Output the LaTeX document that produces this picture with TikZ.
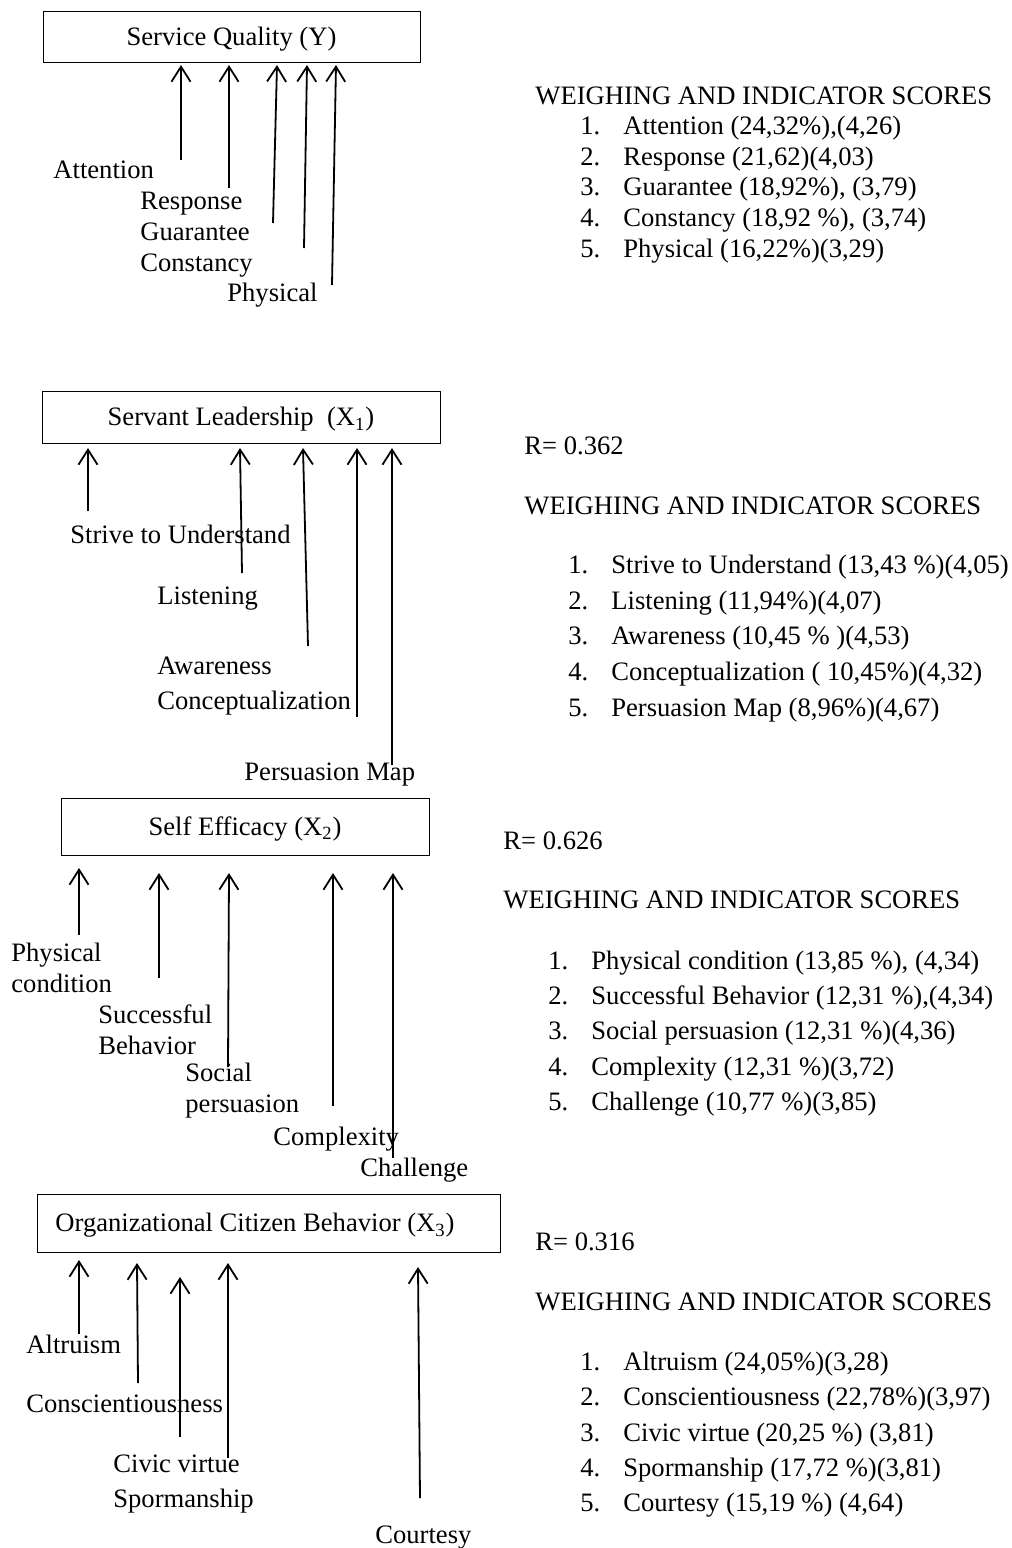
\documentclass[tikz,border=0pt]{standalone}
\usepackage{fontspec}
\setmainfont{Liberation Serif}
\usepackage{tikz}
\usetikzlibrary{arrows.meta, calc}
\newcommand{\itemno}[1]{\makebox[21.5pt][l]{#1}}

\begin{document}
\begin{tikzpicture}[
	x=0.5pt, y=-0.5pt,
	font=\fontsize{13.3}{15.5}\selectfont,
	box/.style={draw, line width=0.5pt, inner sep=0pt, text height=8.8pt, text depth=0pt},
	ind/.style={anchor=base west, inner sep=0pt, yshift=-4.4pt},
	indTwo/.style={anchor=west, inner sep=0pt, align=left},
	txt/.style={anchor=base west, inner sep=0pt, yshift=-4.4pt},
	indArrow/.style={-{Straight Barb[length=7.5pt, width=9.5pt]}, line width=0.9pt}
	]
	
	\useasboundingbox (0,0) rectangle (1012,1548);
	
	% Service Quality
	\node [box, minimum width=188.5pt, minimum height=25.5pt] (Y) at (231.5,36.5) {Service Quality (Y)};
	\node [ind] (yl1) at (53,170) {Attention};
	\node [ind] (yl2) at (140,201) {Response};
	\node [ind] (yl3) at (140,232) {Guarantee};
	\node [ind] (yl4) at (140,263) {Constancy};
	\node [ind] (yl5) at (227,293) {Physical};
	\coordinate (yT1) at (181,160); \coordinate (yH1) at (181,65);
	\coordinate (yT2) at (229,188); \coordinate (yH2) at (229,65);
	\coordinate (yT3) at (273,223); \coordinate (yH3) at (277,65);
	\coordinate (yT4) at (304,248); \coordinate (yH4) at (307,65);
	\coordinate (yT5) at (332,285); \coordinate (yH5) at (336,65);
	\draw [indArrow] (yT1) -- (yH1);
	\draw [indArrow] (yT2) -- (yH2);
	\draw [indArrow] (yT3) -- (yH3);
	\draw [indArrow] (yT4) -- (yH4);
	\draw [indArrow] (yT5) -- (yH5);
	
	\node [txt] (yHead) at (535,96) {WEIGHING AND INDICATOR SCORES};
	\node [txt] (ys1) at (580,126) {\itemno{1.}Attention (24,32\%),(4,26)};
	\node [txt] (ys2) at (580,157) {\itemno{2.}Response (21,62)(4,03)};
	\node [txt] (ys3) at (580,187) {\itemno{3.}Guarantee (18,92\%), (3,79)};
	\node [txt] (ys4) at (580,218) {\itemno{4.}Constancy (18,92 \%), (3,74)};
	\node [txt] (ys5) at (580,249) {\itemno{5.}Physical (16,22\%)(3,29)};
	
	% Servant Leadership
	\node [box, minimum width=199pt, minimum height=26pt] (X1) at (241,417) {Servant Leadership\ \ (X\textsubscript{1})};
	\node [ind] (al1) at (70,535) {Strive to Understand};
	\node [ind] (al2) at (157,596) {Listening};
	\node [ind] (al3) at (157,666) {Awareness};
	\node [ind] (al4) at (157,701) {Conceptualization};
	\node [ind] (al5) at (244,772) {Persuasion Map};
	\coordinate (aT1) at (88,511); \coordinate (aH1) at (88,448);
	\coordinate (aT2) at (242,573); \coordinate (aH2) at (240,448);
	\coordinate (aT3) at (308,646); \coordinate (aH3) at (303,448);
	\coordinate (aT4) at (357,717); \coordinate (aH4) at (357,448);
	\coordinate (aT5) at (392,765); \coordinate (aH5) at (392,448);
	\draw [indArrow] (aT1) -- (aH1);
	\draw [indArrow] (aT2) -- (aH2);
	\draw [indArrow] (aT3) -- (aH3);
	\draw [indArrow] (aT4) -- (aH4);
	\draw [indArrow] (aT5) -- (aH5);
	
	\node [txt] (aR) at (524,446) {R= 0.362};
	\node [txt] (aHead) at (524,506) {WEIGHING AND INDICATOR SCORES};
	\node [txt] (as1) at (568,565) {\itemno{1.}Strive to Understand (13,43 \%)(4,05)};
	\node [txt] (as2) at (568,601) {\itemno{2.}Listening (11,94\%)(4,07)};
	\node [txt] (as3) at (568,636) {\itemno{3.}Awareness (10,45 \% )(4,53)};
	\node [txt] (as4) at (568,672) {\itemno{4.}Conceptualization ( 10,45\%)(4,32)};
	\node [txt] (as5) at (568,708) {\itemno{5.}Persuasion Map (8,96\%)(4,67)};
	
	% Self Efficacy
	\node [box, minimum width=184pt, minimum height=28.5pt] (X2) at (245,826.5) {Self Efficacy (X\textsubscript{2})};
	\node [indTwo] (bl1) at (11,967.5) {Physical\\condition};
	\node [indTwo] (bl2) at (98,1029.5) {Successful\\Behavior};
	\node [indTwo] (bl3) at (185,1090.5) {Social\\persuasion};
	\node [ind] (bl4) at (273,1137) {Complexity};
	\node [ind] (bl5) at (360,1168) {Challenge};
	\coordinate (bT1) at (79,935); \coordinate (bH1) at (79,868);
	\coordinate (bT2) at (159,978); \coordinate (bH2) at (159,873);
	\coordinate (bT3) at (228,1067); \coordinate (bH3) at (229,873);
	\coordinate (bT4) at (333,1106); \coordinate (bH4) at (333,873);
	\coordinate (bT5) at (393,1158); \coordinate (bH5) at (393,873);
	\draw [indArrow] (bT1) -- (bH1);
	\draw [indArrow] (bT2) -- (bH2);
	\draw [indArrow] (bT3) -- (bH3);
	\draw [indArrow] (bT4) -- (bH4);
	\draw [indArrow] (bT5) -- (bH5);
	
	\node [txt] (bR) at (503,841) {R= 0.626};
	\node [txt] (bHead) at (503,900) {WEIGHING AND INDICATOR SCORES};
	\node [txt] (bs1) at (548,961) {\itemno{1.}Physical condition (13,85 \%), (4,34)};
	\node [txt] (bs2) at (548,996) {\itemno{2.}Successful Behavior (12,31 \%),(4,34)};
	\node [txt] (bs3) at (548,1031) {\itemno{3.}Social persuasion (12,31 \%)(4,36)};
	\node [txt] (bs4) at (548,1067) {\itemno{4.}Complexity (12,31 \%)(3,72)};
	\node [txt] (bs5) at (548,1102) {\itemno{5.}Challenge (10,77 \%)(3,85)};
	
	% Organizational Citizen Behavior
	\node [box, minimum width=231.5pt, minimum height=29pt] (X3) at (268.5,1223) {Organizational Citizen Behavior (X\textsubscript{3})\kern 13.5pt};
	\node [ind] (cl1) at (26,1345) {Altruism};
	\node [ind] (cl2) at (26,1404) {Conscientiousness};
	\node [ind] (cl3) at (113,1464) {Civic virtue};
	\node [ind] (cl4) at (113,1499) {Spormanship};
	\node [ind] (cl5) at (375,1535) {Courtesy};
	\coordinate (cT1) at (79,1334); \coordinate (cH1) at (79,1260);
	\coordinate (cT2) at (138,1383); \coordinate (cH2) at (137,1263);
	\coordinate (cT3) at (180,1437); \coordinate (cH3) at (180,1277);
	\coordinate (cT4) at (228,1458); \coordinate (cH4) at (228,1263);
	\coordinate (cT5) at (420,1498); \coordinate (cH5) at (418,1267);
	\draw [indArrow] (cT1) -- (cH1);
	\draw [indArrow] (cT2) -- (cH2);
	\draw [indArrow] (cT3) -- (cH3);
	\draw [indArrow] (cT4) -- (cH4);
	\draw [indArrow] (cT5) -- (cH5);
	
	\node [txt] (cR) at (535,1242) {R= 0.316};
	\node [txt] (cHead) at (535,1302) {WEIGHING AND INDICATOR SCORES};
	\node [txt] (cs1) at (580,1362) {\itemno{1.}Altruism (24,05\%)(3,28)};
	\node [txt] (cs2) at (580,1397) {\itemno{2.}Conscientiousness (22,78\%)(3,97)};
	\node [txt] (cs3) at (580,1433) {\itemno{3.}Civic virtue (20,25 \%) (3,81)};
	\node [txt] (cs4) at (580,1468) {\itemno{4.}Spormanship (17,72 \%)(3,81)};
	\node [txt] (cs5) at (580,1503) {\itemno{5.}Courtesy (15,19 \%) (4,64)};
	
\end{tikzpicture}
\end{document}
